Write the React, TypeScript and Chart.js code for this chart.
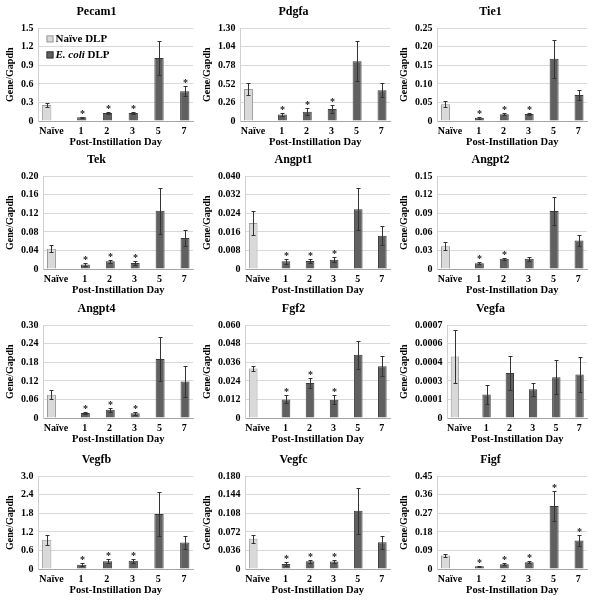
import React, { useEffect, useRef } from 'react';
import { Chart, registerables } from 'chart.js';

Chart.register(...registerables);

const FONT = '"Liberation Serif", "Times New Roman", serif';

const CATEGORIES = ['Naïve', '1', '2', '3', '5', '7'];
const LEGEND_LABELS = ['Naïve DLP', 'E. coli DLP'];
const LEGEND_ITALIC = 'E. coli';
const X_TITLE = 'Post-Instillation Day';
const Y_TITLE = 'Gene/Gapdh';

const PECAM1_MEAN = [0.26, 0.06, 0.13, 0.13, 1.02, 0.48];
const PECAM1_ERR = [0.03, 0.01, 0.02, 0.02, 0.28, 0.08];
const PECAM1_SIG = [false, true, true, true, false, true];
const PECAM1_TICKS = ['0', '0.3', '0.6', '0.9', '1.2', '1.5'];

const PDGFA_MEAN = [0.45, 0.09, 0.13, 0.17, 0.84, 0.43];
const PDGFA_ERR = [0.09, 0.02, 0.05, 0.06, 0.28, 0.1];
const PDGFA_SIG = [false, true, true, true, false, false];
const PDGFA_TICKS = ['0', '0.26', '0.52', '0.78', '1.04', '1.30'];

const TIE1_MEAN = [0.045, 0.009, 0.018, 0.019, 0.168, 0.07];
const TIE1_ERR = [0.008, 0.003, 0.003, 0.003, 0.052, 0.013];
const TIE1_SIG = [false, true, true, true, false, false];
const TIE1_TICKS = ['0', '0.05', '0.10', '0.15', '0.20', '0.25'];

const TEK_MEAN = [0.044, 0.0095, 0.017, 0.013, 0.126, 0.067];
const TEK_ERR = [0.008, 0.003, 0.003, 0.005, 0.05, 0.018];
const TEK_SIG = [false, true, true, true, false, false];
const TEK_TICKS = ['0', '0.04', '0.08', '0.12', '0.16', '0.20'];

const ANGPT1_MEAN = [0.0199, 0.0033, 0.0035, 0.004, 0.0258, 0.0144];
const ANGPT1_ERR = [0.005, 0.001, 0.001, 0.001, 0.009, 0.004];
const ANGPT1_SIG = [false, true, true, true, false, false];
const ANGPT1_TICKS = ['0', '0.008', '0.016', '0.024', '0.032', '0.040'];

const ANGPT2_MEAN = [0.037, 0.0095, 0.0165, 0.0165, 0.094, 0.046];
const ANGPT2_ERR = [0.006, 0.002, 0.002, 0.003, 0.023, 0.009];
const ANGPT2_SIG = [false, true, true, false, false, false];
const ANGPT2_TICKS = ['0', '0.03', '0.06', '0.09', '0.12', '0.15'];

const ANGPT4_MEAN = [0.075, 0.016, 0.027, 0.015, 0.191, 0.118];
const ANGPT4_ERR = [0.015, 0.004, 0.007, 0.004, 0.071, 0.049];
const ANGPT4_SIG = [false, true, true, true, false, false];
const ANGPT4_TICKS = ['0', '0.06', '0.12', '0.18', '0.24', '0.30'];

const FGF2_MEAN = [0.032, 0.012, 0.0227, 0.0119, 0.041, 0.0336];
const FGF2_ERR = [0.0018, 0.0026, 0.0031, 0.0031, 0.009, 0.0065];
const FGF2_SIG = [false, true, true, true, false, false];
const FGF2_TICKS = ['0', '0.012', '0.024', '0.036', '0.048', '0.060'];

const VEGFA_MEAN = [0.000465, 0.000177, 0.000341, 0.000217, 0.000308, 0.000329];
const VEGFA_ERR = [0.0002, 0.00007, 0.00013, 0.00005, 0.00013, 0.00013];
const VEGFA_SIG = [false, false, false, false, false, false];
const VEGFA_TICKS = ['0', '0.0001', '0.0003', '0.0004', '0.0006', '0.0007'];

const VEGFB_MEAN = [0.95, 0.14, 0.25, 0.27, 1.78, 0.86];
const VEGFB_ERR = [0.16, 0.04, 0.07, 0.07, 0.7, 0.2];
const VEGFB_SIG = [false, true, true, true, false, false];
const VEGFB_TICKS = ['0', '0.6', '1.2', '1.8', '2.4', '3.0'];

const VEGFC_MEAN = [0.059, 0.0098, 0.015, 0.0144, 0.113, 0.052];
const VEGFC_ERR = [0.008, 0.003, 0.003, 0.003, 0.044, 0.013];
const VEGFC_SIG = [false, true, true, true, false, false];
const VEGFC_TICKS = ['0', '0.036', '0.072', '0.108', '0.144', '0.180'];

const FIGF_MEAN = [0.065, 0.013, 0.023, 0.033, 0.306, 0.139];
const FIGF_ERR = [0.008, 0.003, 0.004, 0.006, 0.075, 0.028];
const FIGF_SIG = [false, true, true, true, true, true];
const FIGF_TICKS = ['0', '0.09', '0.18', '0.27', '0.36', '0.45'];

const PANELS = [
  { gene: 'Pecam1', mean: PECAM1_MEAN, err: PECAM1_ERR, sig: PECAM1_SIG, ticks: PECAM1_TICKS, legend: true },
  { gene: 'Pdgfa', mean: PDGFA_MEAN, err: PDGFA_ERR, sig: PDGFA_SIG, ticks: PDGFA_TICKS },
  { gene: 'Tie1', mean: TIE1_MEAN, err: TIE1_ERR, sig: TIE1_SIG, ticks: TIE1_TICKS },
  { gene: 'Tek', mean: TEK_MEAN, err: TEK_ERR, sig: TEK_SIG, ticks: TEK_TICKS },
  { gene: 'Angpt1', mean: ANGPT1_MEAN, err: ANGPT1_ERR, sig: ANGPT1_SIG, ticks: ANGPT1_TICKS },
  { gene: 'Angpt2', mean: ANGPT2_MEAN, err: ANGPT2_ERR, sig: ANGPT2_SIG, ticks: ANGPT2_TICKS },
  { gene: 'Angpt4', mean: ANGPT4_MEAN, err: ANGPT4_ERR, sig: ANGPT4_SIG, ticks: ANGPT4_TICKS },
  { gene: 'Fgf2', mean: FGF2_MEAN, err: FGF2_ERR, sig: FGF2_SIG, ticks: FGF2_TICKS },
  { gene: 'Vegfa', mean: VEGFA_MEAN, err: VEGFA_ERR, sig: VEGFA_SIG, ticks: VEGFA_TICKS },
  { gene: 'Vegfb', mean: VEGFB_MEAN, err: VEGFB_ERR, sig: VEGFB_SIG, ticks: VEGFB_TICKS },
  { gene: 'Vegfc', mean: VEGFC_MEAN, err: VEGFC_ERR, sig: VEGFC_SIG, ticks: VEGFC_TICKS },
  { gene: 'Figf', mean: FIGF_MEAN, err: FIGF_ERR, sig: FIGF_SIG, ticks: FIGF_TICKS },
];

const COL_X = [0, 197, 394];
const ROW_Y = [0, 148, 297, 448];
const PANEL_W = 197;
const PANEL_H = 149;

const NAIVE_FILL = '#d9d9d9';
const NAIVE_BORDER = '#9a9a9a';
const ECOLI_FILL = '#606060';
const ECOLI_BORDER = '#3a3a3a';

type PanelDef = (typeof PANELS)[number];

function Panel({ def }: { def: PanelDef }) {
  const ref = useRef<HTMLCanvasElement | null>(null);
  useEffect(() => {
    if (!ref.current) return;
    const yMax = parseFloat(def.ticks[def.ticks.length - 1]);

    const errorPlugin = {
      id: 'errorBars',
      afterDatasetsDraw(chart: any) {
        const ctx = chart.ctx;
        const yScale = chart.scales.y;
        ctx.save();
        ctx.strokeStyle = '#333333';
        ctx.lineWidth = 1;
        def.mean.forEach((m: number, i: number) => {
          const meta = chart.getDatasetMeta(i === 0 ? 0 : 1);
          const el = meta.data[i];
          if (!el) return;
          const x = Math.round(el.x) + 0.5;
          const e = def.err[i];
          const yTop = Math.round(yScale.getPixelForValue(m + e)) + 0.5;
          const yBot = Math.round(yScale.getPixelForValue(Math.max(0, m - e))) + 0.5;
          ctx.beginPath();
          ctx.moveTo(x, yTop);
          ctx.lineTo(x, yBot);
          ctx.moveTo(x - 2, yTop);
          ctx.lineTo(x + 2, yTop);
          ctx.moveTo(x - 2, yBot);
          ctx.lineTo(x + 2, yBot);
          ctx.stroke();
          if (def.sig[i]) {
            ctx.fillStyle = '#222';
            ctx.font = `bold 10px ${FONT}`;
            ctx.textAlign = 'center';
            ctx.textBaseline = 'alphabetic';
            ctx.fillText('*', x, yTop - 0.5);
          }
        });
        ctx.restore();
      },
    };

    const legendPlugin = {
      id: 'insideLegend',
      afterDraw(chart: any) {
        if (!def.legend) return;
        const ctx = chart.ctx;
        const { left, top } = chart.chartArea;
        ctx.save();
        const entries = [
          { fill: NAIVE_FILL, border: NAIVE_BORDER, label: LEGEND_LABELS[0], dy: 10 },
          { fill: ECOLI_FILL, border: ECOLI_BORDER, label: LEGEND_LABELS[1], dy: 26 },
        ];
        entries.forEach((en) => {
          const sx = left + 8;
          const sy = top + en.dy - 3;
          ctx.fillStyle = en.fill;
          ctx.fillRect(sx, sy, 7, 7);
          ctx.strokeStyle = en.border;
          ctx.lineWidth = 1;
          ctx.strokeRect(sx + 0.5, sy + 0.5, 6, 6);
          ctx.fillStyle = '#000';
          ctx.textBaseline = 'middle';
          ctx.textAlign = 'left';
          let tx = sx + 9;
          if (en.label.startsWith(LEGEND_ITALIC)) {
            ctx.font = `italic bold 11px ${FONT}`;
            ctx.fillText(LEGEND_ITALIC, tx, top + en.dy + 1);
            tx += ctx.measureText(LEGEND_ITALIC).width;
            ctx.font = `bold 11px ${FONT}`;
            ctx.fillText(en.label.slice(LEGEND_ITALIC.length), tx, top + en.dy + 1);
          } else {
            ctx.font = `bold 11px ${FONT}`;
            ctx.fillText(en.label, tx, top + en.dy + 1);
          }
        });
        ctx.restore();
      },
    };

    const tickFont = { family: FONT, size: 10, weight: 'bold' as const };

    const chart = new Chart(ref.current, {
      type: 'bar',
      data: {
        labels: CATEGORIES,
        datasets: [
          {
            label: LEGEND_LABELS[0],
            data: def.mean.map((v: number, i: number) => (i === 0 ? v : null)),
            backgroundColor: NAIVE_FILL,
            borderColor: NAIVE_BORDER,
            borderWidth: 1,
            barPercentage: 1,
            categoryPercentage: 0.72,
          } as any,
          {
            label: LEGEND_LABELS[1],
            data: def.mean.map((v: number, i: number) => (i === 0 ? null : v)),
            backgroundColor: ECOLI_FILL,
            borderColor: ECOLI_BORDER,
            borderWidth: 1,
            barPercentage: 1,
            categoryPercentage: 0.72,
          } as any,
        ],
      },
      options: {
        animation: false,
        responsive: false,
        devicePixelRatio: 1,
        layout: { padding: { left: 0, right: 4, top: 0, bottom: 0 } },
        plugins: {
          legend: { display: false },
          tooltip: { enabled: false },
          title: {
            display: true,
            text: def.gene,
            color: '#000',
            font: { family: FONT, size: 12, weight: 'bold' },
            padding: { top: 5, bottom: 9 },
          },
        },
        scales: {
          x: {
            grid: { display: false, drawTicks: false },
            border: { display: true, color: '#a6a6a6' },
            afterFit: (scale: any) => {
              scale.height = 28;
            },
            ticks: {
              font: tickFont,
              color: '#000',
              padding: 4,
              maxRotation: 0,
              autoSkip: false,
              callback: (_v: any, i: number) => (i === 0 ? CATEGORIES[0] : '   ' + CATEGORIES[i]),
            },
            title: {
              display: true,
              text: X_TITLE,
              color: '#000',
              font: { family: FONT, size: 10.5, weight: 'bold' },
              padding: { top: 0, bottom: 0 },
            },
          },
          y: {
            min: 0,
            max: yMax,
            grid: { color: '#d9d9d9', drawTicks: false },
            border: { display: true, color: '#d0d0d0' },
            ticks: {
              count: def.ticks.length,
              font: tickFont,
              color: '#000',
              padding: 5,
              callback: (_v: any, i: number) => def.ticks[i],
            },
            title: {
              display: true,
              text: Y_TITLE,
              color: '#000',
              font: { family: FONT, size: 10, weight: 'bold' },
              padding: { top: 4, bottom: 0 },
            },
          },
        },
      },
      plugins: [errorPlugin, legendPlugin],
    });
    return () => chart.destroy();
  }, [def]);

  return <canvas ref={ref} width={PANEL_W} height={PANEL_H} style={{ display: 'block' }} />;
}

export default function App() {
  return (
    <div style={{ position: 'absolute', left: 0, top: 0, width: 593, height: 600, background: '#fff' }}>
      {PANELS.map((p, idx) => (
        <div
          key={p.gene}
          style={{
            position: 'absolute',
            left: COL_X[idx % 3],
            top: ROW_Y[Math.floor(idx / 3)],
            width: PANEL_W,
            height: PANEL_H,
          }}
        >
          <Panel def={p} />
        </div>
      ))}
    </div>
  );
}
